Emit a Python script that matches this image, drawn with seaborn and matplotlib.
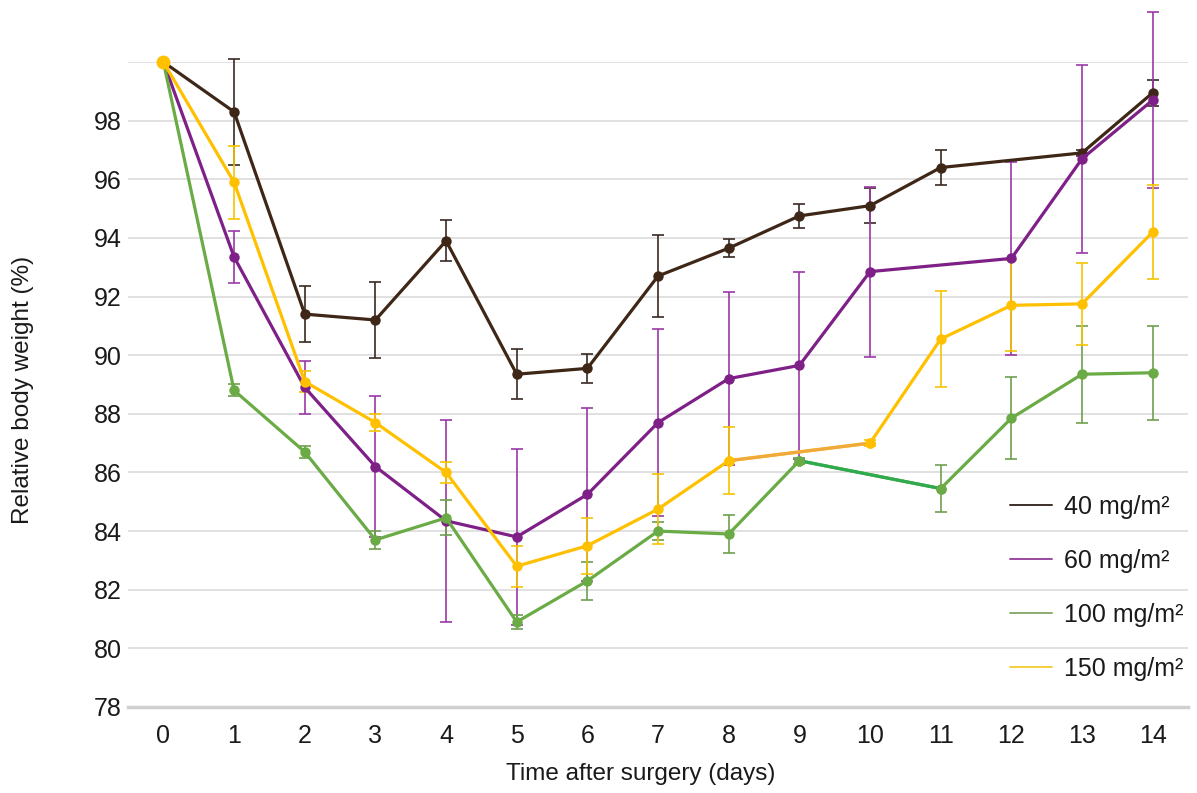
import numpy as np
import pandas as pd
import matplotlib
matplotlib.use("Agg")
import matplotlib.pyplot as plt
from matplotlib.lines import Line2D
import seaborn as sns

nan = np.nan
days = list(range(15))
doses = ["40 mg/m²", "60 mg/m²", "100 mg/m²", "150 mg/m²"]

w40 = [100, 98.3, 91.4, 91.2, 93.9, 89.35, 89.55, 92.7, 93.65, 94.75, 95.1, 96.4, nan, 96.9, 98.95]
e40 = [0, 1.8, 0.95, 1.3, 0.7, 0.85, 0.5, 1.4, 0.3, 0.4, 0.6, 0.6, 0, 0.1, 0.45]
w60 = [100, 93.35, 88.9, 86.2, 84.35, 83.8, 85.25, 87.7, 89.2, 89.65, 92.85, nan, 93.3, 96.7, 98.7]
e60 = [0, 0.9, 0.9, 2.4, 3.45, 3.0, 2.95, 3.2, 2.95, 3.2, 2.9, 0, 3.3, 3.2, 3.0]
w100 = [100, 88.8, 86.7, 83.7, 84.45, 80.9, 82.3, 84.0, 83.9, 86.4, nan, 85.45, 87.85, 89.35, 89.4]
e100 = [0, 0.2, 0.2, 0.3, 0.6, 0.25, 0.65, 0.3, 0.65, 0.1, 0, 0.8, 1.4, 1.65, 1.6]
w150 = [100, 95.9, 89.1, 87.7, 86.0, 82.8, 83.5, 84.75, 86.4, nan, 87.0, 90.55, 91.7, 91.75, 94.2]
e150 = [0, 1.25, 0.35, 0.3, 0.35, 0.7, 0.95, 1.2, 1.15, 0, 0.1, 1.65, 1.55, 1.4, 1.6]

yticks = list(range(78, 101, 2))
ytick_labels = [str(v) if v < 100 else "" for v in yticks]

line_colors = ["#3f2718", "#7e2087", "#6aab46", "#ffc000"]
err_colors = ["#3a2a22", "#9a3aa5", "#6f9f4f", "#f5c400"]
bridge_colors = ["#3f2718", "#7e2087", "#2eaa4f", "#f2a93b"]
legend_colors = ["#3c2f2a", "#9b4aa0", "#8aab70", "#f3cf3a"]

series = [w40, w60, w100, w150]
errs = [e40, e60, e100, e150]

rows = []
for d, vals in zip(doses, series):
    for x, v in zip(days, vals):
        rows.append({"day": x, "weight": v, "dose": d})
df = pd.DataFrame(rows).dropna()

sns.set_theme(style="white")
plt.rcParams["font.family"] = ["Liberation Sans", "DejaVu Sans"]

fig = plt.figure(figsize=(11.97, 7.93), dpi=100)
ax = fig.add_axes([0.107, 0.1085, 0.8855, 0.8133])

ax.set_axisbelow(True)
ax.yaxis.grid(True, color="#d9d9d9", linewidth=1.1)
ax.xaxis.grid(False)

for i, (d, vals, ev) in enumerate(zip(doses, series, errs)):
    x = np.array(days, dtype=float)
    y = np.array(vals, dtype=float)
    e = np.array(ev, dtype=float)
    m = (~np.isnan(y)) & (e > 0)
    ax.errorbar(x[m], y[m], yerr=e[m], fmt="none", ecolor=err_colors[i],
                elinewidth=1.2, capsize=4.5, capthick=1.2, zorder=2 + i, clip_on=False)

sns.lineplot(data=df, x="day", y="weight", hue="dose", hue_order=doses,
             palette=line_colors, marker="o", markersize=7.5, markeredgewidth=0,
             linewidth=2.3, errorbar=None, legend=False, ax=ax, clip_on=False,
             zorder=10)

# bridge segments across the missing point of each series
for i, vals in enumerate(series):
    y = np.array(vals, dtype=float)
    idx = np.where(np.isnan(y))[0]
    for k in idx:
        if bridge_colors[i] != line_colors[i]:
            ax.plot([days[k - 1], days[k + 1]], [y[k - 1], y[k + 1]],
                    color=bridge_colors[i], linewidth=2.3, zorder=11, solid_capstyle="round")
            ax.plot([days[k - 1], days[k + 1]], [y[k - 1], y[k + 1]], linestyle="none",
                    marker="o", markersize=7.5, markeredgewidth=0, color=line_colors[i], zorder=12)

# start point drawn slightly larger, as in the reference
ax.plot([days[0]], [w150[0]], linestyle="none", marker="o", markersize=10,
        markeredgewidth=0, color=line_colors[3], zorder=13, clip_on=False)

ax.set_xlim(-0.5, 14.5)
ax.set_ylim(78, 100)
ax.set_xticks(days)
ax.set_xticklabels([str(d) for d in days])
ax.set_yticks(yticks)
ax.set_yticklabels(ytick_labels)
ax.tick_params(axis="x", length=0, pad=12, labelsize=18, colors="#1a1a1a")
ax.tick_params(axis="y", length=0, pad=4.5, labelsize=18, colors="#1a1a1a")

for s in ["top", "right", "left"]:
    ax.spines[s].set_visible(False)
ax.spines["bottom"].set_color("#d0d0d0")
ax.spines["bottom"].set_linewidth(2.5)

ax.set_xlabel("Time after surgery (days)", fontsize=17.5, color="#1a1a1a")
ax.set_ylabel("Relative body weight (%)", fontsize=17.5, color="#1a1a1a")
ax.xaxis.set_label_coords(0.484, -0.087)
ax.yaxis.set_label_coords(-0.0885, 0.491)

handles = [Line2D([0], [0], color=c, linewidth=1.4) for c in legend_colors]
leg = ax.legend(handles, doses, loc="center left", bbox_to_anchor=(0.832, 0.185),
                frameon=False, fontsize=18, handlelength=1.7, handletextpad=0.45,
                labelspacing=1.2, borderpad=0, borderaxespad=0)
for t in leg.get_texts():
    t.set_color("#1a1a1a")

fig.savefig("out.png", dpi=100, facecolor="white")
